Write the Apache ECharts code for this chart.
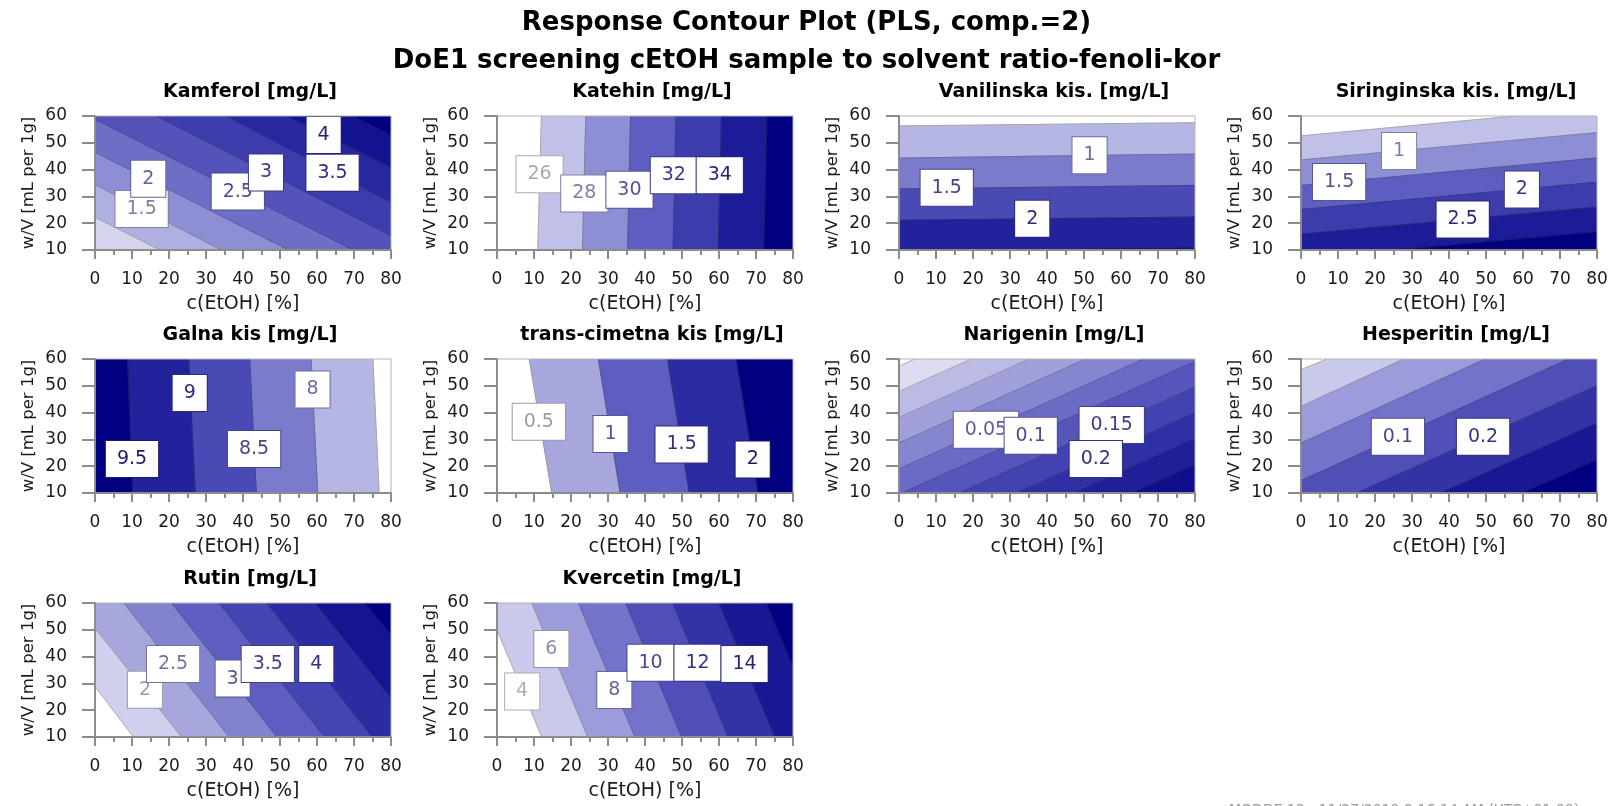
<!DOCTYPE html>
<html><head><meta charset="utf-8">
<script src="https://cdn.jsdelivr.net/npm/echarts@6/dist/echarts.min.js"></script>
<style>html,body{margin:0;padding:0;background:#fff}#c{width:1613px;height:806px}</style>
</head><body><div id="c"></div><script>
// ---------- DATA ----------
const mainTitle1 = 'Response Contour Plot (PLS, comp.=2)';
const mainTitle2 = 'DoE1 screening cEtOH sample to solvent ratio-fenoli-kor';
const footerText = 'MODDE 13 - 11/27/2019 8:16:14 AM (UTC+01:00)';
const panelTitles = ['Kamferol [mg/L]','Katehin [mg/L]','Vanilinska kis. [mg/L]','Siringinska kis. [mg/L]',
  'Galna kis [mg/L]','trans-cimetna kis [mg/L]','Narigenin [mg/L]','Hesperitin [mg/L]','Rutin [mg/L]','Kvercetin [mg/L]'];
const xName = 'c(EtOH) [%]';
const yName = 'w/V [mL per 1g]';
const xRange = [0, 80], xStep = 10;
const yRange = [10, 60], yStep = 10;

// contour levels (ascending) and each contour line as two points on it [x1,y1,x2,y2]
const kamferolLevels = [0.5,1,1.5,2,2.5,3,3.5,4,4.5];
const kamferolLines = [[0,10,-17.4,22.2],[0,22.2,17.6,10],[0,34.4,34.2,10],[0,46.5,52.3,10],[0,58.8,69.8,10],
  [16.7,60,80,15.4],[35.6,60,80,27.8],[51.8,60,80,40.9],[69.7,60,80,52.8]];
const kamferolLabels = [[12.6,25.3,'1.5'],[14.4,36.6,'2'],[38.6,31.8,'2.5'],[46.2,38.9,'3'],[61.8,52.9,'4'],[64.2,38.8,'3.5']];

const katehinLevels = [26,28,30,32,34,36];
const katehinLines = [[12.0,60,11.0,10],[24.0,60,23.1,10],[36.1,60,35.3,10],[48.4,60,47.6,10],[60.7,60,59.8,10],[73.0,60,72.1,10]];
const katehinLabels = [[11.5,38.3,'26'],[23.6,31.1,'28'],[35.8,32.5,'30'],[47.8,37.9,'32'],[60.2,37.9,'34']];

const vanilinskaLevels = [0.5,1,1.5,2,2.5];
const vanilinskaLines = [[0,56.3,80,57.5],[0,44.3,80,45.8],[0,32.8,80,34.1],[0,21.1,80,22.3],[0,9.4,80,10.7]];
const vanilinskaLabels = [[51.5,45.4,'1'],[12.9,33.2,'1.5'],[36.0,21.7,'2']];

const siringinskaLevels = [0.5,1,1.5,2,2.5,3];
const siringinskaLines = [[0,52.6,80,62.8],[0,43.6,80,53.8],[0,34.1,80,44.3],[0,25.1,80,35.3],[0,15.9,80,26.0],[0,6.8,80,16.8]];
const siringinskaLabels = [[26.5,46.9,'1'],[10.3,35.4,'1.5'],[59.7,32.6,'2'],[43.7,21.4,'2.5']];

const galnaLevels = [7.5,8,8.5,9,9.5];
const galnaLines = [[75.1,60,76.8,10],[58.4,60,60.2,10],[41.8,60,43.6,10],[25.3,60,27.1,10],[8.75,60,10.1,10]];
const galnaLabels = [[58.8,48.6,'8'],[43.0,26.4,'8.5'],[25.6,47.3,'9'],[10.0,22.7,'9.5']];

const cimetnaLevels = [0.5,1,1.5,2];
const cimetnaLines = [[8.7,60,14.8,10],[27.4,60,33.3,10],[46.1,60,52.0,10],[64.7,60,70.6,10]];
const cimetnaLabels = [[11.3,36.6,'0.5'],[30.7,32.0,'1'],[49.9,28.1,'1.5'],[69.1,22.5,'2']];

const narigeninLevels = [-0.15,-0.1,-0.05,0,0.05,0.1,0.15,0.2,0.25,0.3,0.35];
const narigeninLines = [[0,57.3,80,106.9],[0,47.9,80,97.5],[0,38.2,80,87.8],[0,28.7,80,78.3],[0,19.0,80,68.6],
  [0,9.5,80,59.1],[0,-0.1,80,49.5],[0,-9.7,80,39.9],[0,-19.3,80,30.3],[0,-28.9,80,20.7],[0,-38.5,80,11.1]];
const narigeninLabels = [[23.5,33.6,'0.05'],[35.6,31.4,'0.1'],[57.5,35.4,'0.15'],[53.2,22.7,'0.2']];

const hesperitinLevels = [-0.2,-0.1,0,0.1,0.2,0.3,0.4];
const hesperitinLines = [[0,56.0,7.0,60],[0,42.3,27.7,60],[0,28.6,49.8,60],[0,14.6,72.3,60],[15.1,10,80,50.0],[37.7,10,80,36.1],[59.7,10,80,22.4]];
const hesperitinLabels = [[26.2,31.0,'0.1'],[49.2,31.0,'0.2']];

const rutinLevels = [1.5,2,2.5,3,3.5,4,4.5,5];
const rutinLines = [[0,28.9,10.4,10],[0,50.7,23.4,10],[7.8,60,36.3,10],[20.7,60,49.2,10],[33.5,60,62.0,10],[46.4,60,74.9,10],[59.5,60,80,24.6],[72.8,60,80,48.2]];
const rutinLabels = [[13.5,27.6,'2'],[21.1,37.2,'2.5'],[37.2,31.8,'3'],[46.7,37.2,'3.5'],[59.8,37.2,'4']];

const kvercetinLevels = [4,6,8,10,12,14,16];
const kvercetinLines = [[0,50,12.1,10],[9.4,60,24.5,10],[22.0,60,37.3,10],[34.8,60,49.9,10],[47.5,60,62.5,10],[60.0,60,75.1,10],[72.8,60,80,36.2]];
const kvercetinLabels = [[6.8,27.0,'4'],[14.7,42.8,'6'],[31.7,27.5,'8'],[41.5,37.7,'10'],[54.2,37.7,'12'],[66.9,37.2,'14']];

// ---------- BUILD ----------
const panels = [
  [kamferolLevels,kamferolLines,kamferolLabels],[katehinLevels,katehinLines,katehinLabels],
  [vanilinskaLevels,vanilinskaLines,vanilinskaLabels],[siringinskaLevels,siringinskaLines,siringinskaLabels],
  [galnaLevels,galnaLines,galnaLabels],[cimetnaLevels,cimetnaLines,cimetnaLabels],
  [narigeninLevels,narigeninLines,narigeninLabels],[hesperitinLevels,hesperitinLines,hesperitinLabels],
  [rutinLevels,rutinLines,rutinLabels],[kvercetinLevels,kvercetinLines,kvercetinLabels]
].map((p,i)=>({title:panelTitles[i],levels:p[0],lines:p[1],labels:p[2]}));

const FONT = '"DejaVu Sans", Verdana, sans-serif';
const bandAnchors = [[255,255,255],[192,192,232],[142,142,212],[94,94,192],[60,60,172],[28,28,152],[0,0,128]];
function mixStops(stops, cols, t){
  t = Math.max(0, Math.min(1, t));
  let i = 0; while (i < stops.length-2 && t > stops[i+1]) i++;
  const f = (t - stops[i]) / (stops[i+1] - stops[i]);
  const a = cols[i], b = cols[i+1];
  return 'rgb(' + [0,1,2].map(k=>Math.round(a[k]+(b[k]-a[k])*f)).join(',') + ')';
}
function bandColor(t){ return mixStops([0,1/6,2/6,3/6,4/6,5/6,1], bandAnchors, t); }
function textColor(t){ return mixStops([0,0.22,0.36,0.5,0.7,1],
  [[185,185,185],[165,165,165],[118,118,165],[84,84,150],[52,52,130],[26,26,104]], t); }

function cross(A,B,P){ return (B[0]-A[0])*(P[1]-A[1]) - (B[1]-A[1])*(P[0]-A[0]); }
function clipHalf(poly, A, B, s){
  const out = [];
  for (let i=0;i<poly.length;i++){
    const cur = poly[i], prev = poly[(i+poly.length-1)%poly.length];
    const fc = s*cross(A,B,cur), fp = s*cross(A,B,prev);
    const inter = ()=>{ const t = fp/(fp-fc); return [prev[0]+t*(cur[0]-prev[0]), prev[1]+t*(cur[1]-prev[1])]; };
    if (fc >= 0){ if (fp < 0) out.push(inter()); out.push(cur); }
    else if (fp >= 0) out.push(inter());
  }
  return out;
}
function clipSeg(A,B){
  const dx=B[0]-A[0], dy=B[1]-A[1]; let t0=-1e3, t1=1e3;
  const p=[-dx,dx,-dy,dy], q=[A[0]-xRange[0], xRange[1]-A[0], A[1]-yRange[0], yRange[1]-A[1]];
  for (let i=0;i<4;i++){
    if (p[i]===0){ if (q[i]<0) return null; continue; }
    const r=q[i]/p[i];
    if (p[i]<0) t0=Math.max(t0,r); else t1=Math.min(t1,r);
  }
  if (t0>=t1) return null;
  return [A[0]+t0*dx, A[1]+t0*dy, A[0]+t1*dx, A[1]+t1*dy];
}
panels.forEach(P=>{
  const L = P.lines, n = L.length;
  const pts = L.map(l=>[[l[0],l[1]],[l[2],l[3]]]);
  const mid = k=>[(L[k][0]+L[k][2])/2,(L[k][1]+L[k][3])/2];
  const hs = pts.map((ab,k)=> k<n-1 ? Math.sign(cross(ab[0],ab[1],mid(k+1))) : -Math.sign(cross(ab[0],ab[1],mid(k-1))));
  const rect = [[xRange[0],yRange[0]],[xRange[1],yRange[0]],[xRange[1],yRange[1]],[xRange[0],yRange[1]]];
  P.bandPolys = [];
  for (let i=0;i<=n;i++){
    let poly = rect.slice();
    if (i>0) poly = clipHalf(poly, pts[i-1][0], pts[i-1][1], hs[i-1]);
    if (i<n && poly.length) poly = clipHalf(poly, pts[i][0], pts[i][1], -hs[i]);
    P.bandPolys.push(poly);
  }
  P.segs = pts.map(ab=>clipSeg(ab[0],ab[1]));
});

const gridLefts = [95,497,899,1301], gridTops = [116,359,603], gridW = 296, gridH = 134;
const axisGrey = '#8c8c8c';
const grid=[], xAxis=[], yAxis=[], series=[];
const title=[
  {text:mainTitle1,left:'center',top:10,padding:0,textStyle:{fontFamily:FONT,fontSize:26,fontWeight:'bold',color:'#000'}},
  {text:mainTitle2,left:'center',top:48,padding:0,textStyle:{fontFamily:FONT,fontSize:26,fontWeight:'bold',color:'#000'}}
];
panels.forEach((P,i)=>{
  const col=i%4,row=Math.floor(i/4);
  const gl=gridLefts[col], gt=gridTops[row];
  grid.push({left:gl,top:gt,width:gridW,height:gridH,show:true,borderColor:'#b4b4b4',borderWidth:1,backgroundColor:'transparent',z:5});
  title.push({text:P.title,left:gl+gridW/2+7,top:gt-33,textAlign:'center',padding:0,
    textStyle:{fontFamily:FONT,fontSize:19,fontWeight:'bold',color:'#000'}});
  xAxis.push({gridIndex:i,type:'value',min:xRange[0],max:xRange[1],interval:xStep,z:6,
    axisLine:{show:true,onZero:false,lineStyle:{color:axisGrey,width:2}},
    axisTick:{show:true,length:9,lineStyle:{color:axisGrey,width:2}},
    minorTick:{show:true,splitNumber:2,length:5,lineStyle:{color:axisGrey,width:2}},
    splitLine:{show:false},minorSplitLine:{show:false},
    axisLabel:{fontFamily:FONT,fontSize:17,color:'#1a1a1a',margin:21},
    name:xName,nameLocation:'middle',nameGap:45,nameTextStyle:{fontFamily:FONT,fontSize:19,color:'#1a1a1a'}});
  yAxis.push({gridIndex:i,type:'value',min:yRange[0],max:yRange[1],interval:yStep,z:6,
    axisLine:{show:true,onZero:false,lineStyle:{color:axisGrey,width:2}},
    axisTick:{show:true,length:13,lineStyle:{color:axisGrey,width:2}},
    splitLine:{show:false},
    axisLabel:{fontFamily:FONT,fontSize:17,color:'#1a1a1a',margin:28},
    name:yName,nameLocation:'middle',nameGap:58,nameTextStyle:{fontFamily:FONT,fontSize:16.5,color:'#1a1a1a'}});
  const n = P.lines.length;
  const items = [];
  P.bandPolys.forEach((_,b)=>items.push([0,b]));
  P.segs.forEach((_,k)=>items.push([1,k]));
  series.push({type:'custom',coordinateSystem:'cartesian2d',xAxisIndex:i,yAxisIndex:i,silent:true,clip:true,z:2,
    data:items,
    renderItem:(params,api)=>{
      const kind=api.value(0), idx=api.value(1);
      if (kind===0){
        const poly=P.bandPolys[idx];
        if (!poly || poly.length<3) return {type:'group',children:[]};
        const c=bandColor(idx/n);
        return {type:'polygon',shape:{points:poly.map(p=>api.coord(p))},style:{fill:c,stroke:c,lineWidth:0.6}};
      }
      const s=P.segs[idx];
      if (!s) return {type:'group',children:[]};
      const a=api.coord([s[0],s[1]]), b=api.coord([s[2],s[3]]);
      return {type:'line',shape:{x1:a[0],y1:a[1],x2:b[0],y2:b[1]},style:{stroke:textColor((idx+1)/n),lineWidth:1}};
    }});
  series.push({type:'scatter',xAxisIndex:i,yAxisIndex:i,silent:true,z:3,symbolSize:1,
    itemStyle:{color:'rgba(0,0,0,0)',opacity:1},
    data:P.labels.map(l=>{
      const k=P.levels.indexOf(parseFloat(l[2]));
      const c=textColor((k+1)/n);
      return {value:[l[0],l[1]],itemStyle:{opacity:1},label:{show:true,position:'inside',formatter:l[2],color:c,opacity:1,
        fontFamily:FONT,fontSize:19,lineHeight:21,backgroundColor:'#ffffff',borderColor:c,borderWidth:1,padding:[8,11,7,11]}};
    })});
});

const chart = echarts.init(document.getElementById('c'), null, {renderer:'canvas'});
chart.setOption({
  animation:false, backgroundColor:'#fff',
  title, grid, xAxis, yAxis, series,
  graphic:[{type:'text',left:1229,top:803,silent:true,style:{text:footerText,fill:'#9a9a9a',font:'14px '+FONT}}]
});
</script></body></html>
